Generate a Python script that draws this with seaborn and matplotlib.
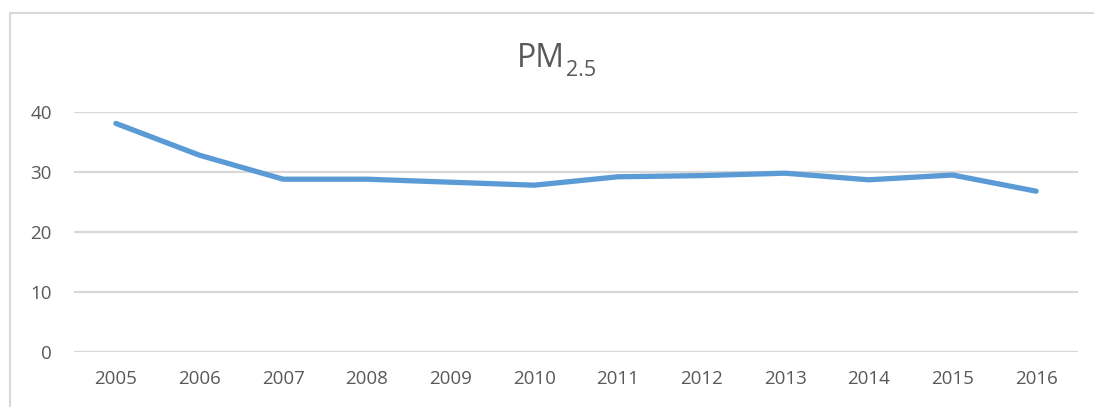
import matplotlib
matplotlib.use("Agg")
import matplotlib.pyplot as plt
from matplotlib.patches import Rectangle
import seaborn as sns
import pandas as pd

years = ["2005", "2006", "2007", "2008", "2009", "2010",
         "2011", "2012", "2013", "2014", "2015", "2016"]
pm25 = [38.1, 32.8, 28.8, 28.8, 28.3, 27.8, 29.2, 29.4, 29.8, 28.7, 29.5, 26.8]
y_ticks = [0, 10, 20, 30, 40]
title_main = "PM"
title_sub = "2.5"

df = pd.DataFrame({"year": years, "pm25": pm25})

sns.set_theme(style="white")
plt.rcParams["font.family"] = ["Open Sans", "DejaVu Sans"]

text_color = "#595959"
grid_color = "#D9D9D9"
W, H = 1094, 407

fig = plt.figure(figsize=(W / 100, H / 100), dpi=100)
ax = fig.add_axes([74 / W, 55 / H, 1004 / W, 240 / H])

sns.lineplot(data=df, x="year", y="pm25", ax=ax, sort=False,
             color="#5B9BD5", linewidth=3.8, solid_capstyle="round",
             solid_joinstyle="round")

ax.set_xlim(-0.5, len(years) - 0.5)
ax.set_ylim(0, 40)
ax.set_yticks(y_ticks)
ax.set_yticklabels([str(t) for t in y_ticks])
ax.set_xlabel("")
ax.set_ylabel("")
for s in ax.spines.values():
    s.set_visible(False)
ax.grid(axis="y", color=grid_color, linewidth=1.6)
ax.set_axisbelow(True)
ax.axhline(0, color=grid_color, linewidth=1.6, zorder=0)
ax.tick_params(axis="both", length=0, labelsize=13.5, colors=text_color)
ax.tick_params(axis="y", pad=16)
ax.tick_params(axis="x", pad=13)

# title with subscript
fig.text(565 / W, (H - 67) / H, title_main, ha="right", va="baseline",
         fontsize=23, color=text_color)
fig.text(566 / W, (H - 76) / H, title_sub, ha="left", va="baseline",
         fontsize=15.5, color=text_color)

# chart frame (left and top edges visible)
fig.patches.append(Rectangle((10 / W, -0.05), 1.1, 0.05 + 394 / H,
                             transform=fig.transFigure, fill=False,
                             edgecolor=grid_color, linewidth=1.5))

fig.savefig("out.png", dpi=100, facecolor="white")
